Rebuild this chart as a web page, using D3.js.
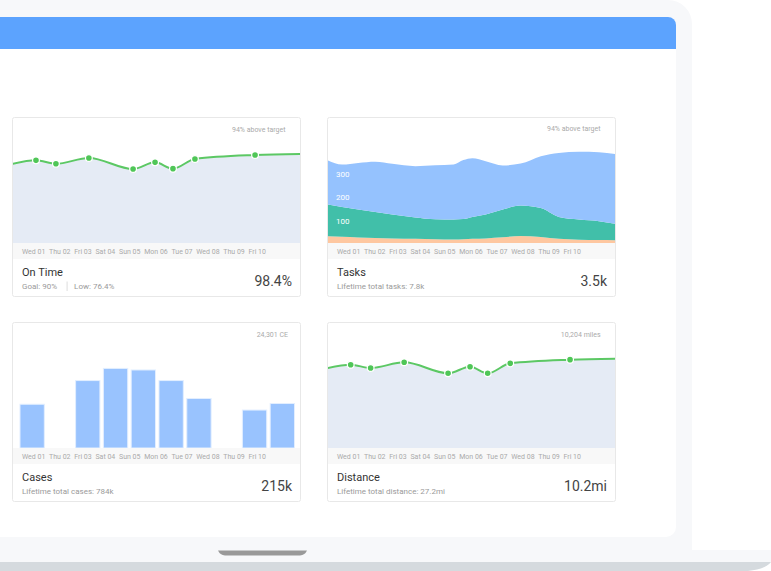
<!DOCTYPE html>
<html>
<head>
<meta charset="utf-8">
<script src="https://cdn.jsdelivr.net/npm/d3@7"></script>
<style>
  body { margin: 0; background: #fff; }
  svg { display: block; font-family: Roboto, "Open Sans", sans-serif; }
</style>
</head>
<body>
<div id="container"></div>
<script>
// tick labels shared by every card
const dayLabels = ["Wed 01", "Thu 02", "Fri 03", "Sat 04", "Sun 05", "Mon 06", "Tue 07", "Wed 08", "Thu 09", "Fri 10"];

// On Time (line), x in days from the left edge
const onTimeDays = [0, 0.83, 1.52, 2.66, 4.19, 4.95, 5.57, 6.33, 8.41, 10];
const onTimeValues = [62.7, 65.6, 62.9, 67.5, 58.7, 64.0, 59.0, 66.7, 69.8, 70.6];

// Tasks (stacked areas)
const taskDays = [0, 0.52, 1.08, 1.67, 2.26, 3.06, 3.75, 4.38, 4.72, 5.03, 5.49, 6.08, 6.7, 7.4, 8.02, 8.72, 9.41, 10];
const taskOther = [34, 31, 28, 26, 24, 22, 20, 19, 20, 22, 24, 29, 34, 30, 22, 18, 17, 16];
const taskDone = [136, 128, 120, 111, 103, 92, 86, 86, 87, 94, 103, 119, 131, 124, 94, 87, 81, 70];
const taskOpen = [190, 182, 200, 216, 217, 220, 232, 236, 253, 252, 228, 189, 180, 223, 275, 291, 296, 300];
const taskTicks = [100, 200, 300];

// Cases (bars)
const caseValues = [2270, 0, 3500, 4130, 4050, 3500, 2570, 0, 1970, 2310];

// Distance (line)
const distanceDays = [0, 0.82, 1.51, 2.67, 4.19, 4.95, 5.56, 6.34, 8.41, 10];
const distanceValues = [63.3, 66.1, 63.5, 68.0, 59.3, 64.5, 59.3, 67.2, 70.1, 70.9];

// card texts
const cardTitles = ["On Time", "Tasks", "Cases", "Distance"];
const cardNotes = ["94% above target", "94% above target", "24,301 CE", "10,204 miles"];
const cardSubs = [["Goal: 90%", "Low: 76.4%"], ["Lifetime total tasks: 7.8k"], ["Lifetime total cases: 784k"], ["Lifetime total distance: 27.2mi"]];
const cardTotals = ["98.4%", "3.5k", "215k", "10.2mi"];

const setAttrs = (el, attrs) =>
  Object.entries(attrs).reduce((acc, [key, val]) => acc.attr(key, val), el);

const CW = 289, CH = 126;
const cardPos = [[12, 117], [327, 117], [12, 322], [327, 322]];

const svg = d3.select("#container").append("svg");
setAttrs(svg, { width: 771, height: 571 });
const defs = svg.append("defs");

// laptop
svg.append("path").attr("d", "M0,0H668A24,24 0 0 1 692,24V550H0Z").attr("fill", "#f7f8fa");
svg.append("rect").call(setAttrs, { x: 0, y: 550, width: 771, height: 12, fill: "#f7f8fa" });
svg.append("path").attr("d", "M0,562H771Q766,569 748,571H0Z").attr("fill", "#d5dade");
svg.append("path").attr("d", "M218,550.5H307Q305,555 300,555.5H225Q220,555 218,550.5Z").attr("fill", "#999");
svg.append("path").attr("d", "M0,17H668A8,8 0 0 1 676,25V527A10,10 0 0 1 666,537H0Z").attr("fill", "#fff");
svg.append("path").attr("d", "M0,17H668A8,8 0 0 1 676,25V49H0Z").attr("fill", "#5ca3fe");

function drawCard(i) {
  const [cx, cy] = cardPos[i];
  const g = svg.append("g").attr("transform", `translate(${cx},${cy})`);
  g.append("rect").call(setAttrs, {
    x: 0.5, y: 0.5, width: CW - 1, height: 179, rx: 2, fill: "#fff", stroke: "#e8e8e8"
  });
  defs.append("clipPath").attr("id", `clip${i}`)
    .append("rect").call(setAttrs, { x: 1, y: 1, width: CW - 2, height: CH - 1 });

  const chart = g.append("g").attr("clip-path", `url(#clip${i})`);

  // tick label band
  g.append("rect").call(setAttrs, { x: 1, y: CH, width: CW - 2, height: 16, fill: "#f8f8f8" });
  let tx = 10;
  dayLabels.forEach((lab) => {
    const t = g.append("text").text(lab).call(setAttrs, {
      x: tx, y: CH + 11, "font-size": 7, fill: "#aaa"
    });
    tx += t.node().getComputedTextLength() + 3.7;
  });

  g.append("text").text(cardNotes[i]).call(setAttrs, {
    x: CW - (i === 2 ? 13 : 15.5), y: i === 1 ? 13.5 : 15, "text-anchor": "end", "font-size": 7, fill: "#aaa"
  });
  g.append("text").text(cardTitles[i]).call(setAttrs, {
    x: 10, y: 159, "font-size": 11, fill: "#333"
  });
  let sx = 10;
  cardSubs[i].forEach((s, k) => {
    if (k > 0) {
      sx += 10;
      g.append("line").call(setAttrs, { x1: sx, x2: sx, y1: 164.5, y2: 174, stroke: "#ddd" });
      sx += 7;
    }
    const t = g.append("text").text(s).call(setAttrs, {
      x: sx, y: 172.3, "font-size": 8, fill: "#9a9a9a"
    });
    sx += t.node().getComputedTextLength();
  });
  g.append("text").text(cardTotals[i]).call(setAttrs, {
    x: CW - 9, y: 168.5, "text-anchor": "end", "font-size": 14, fill: "#444"
  });
  return chart;
}

function lineChart(chart, days, values) {
  const x = d3.scaleLinear().domain([0, 10]).range([0, CW]);
  const y = d3.scaleLinear().domain([0, 100]).range([CH, 0]);
  const pts = days.map((d, i) => [d, values[i]]);
  const area = d3.area().x((d) => x(d[0])).y0(CH).y1((d) => y(d[1])).curve(d3.curveMonotoneX);
  const line = d3.line().x((d) => x(d[0])).y((d) => y(d[1])).curve(d3.curveMonotoneX);
  chart.append("path").attr("d", area(pts)).attr("fill", "#e5ebf5");
  chart.append("path").call(setAttrs, {
    d: line(pts), fill: "none", stroke: "#5cc864", "stroke-width": 2
  });
  chart.selectAll("circle").data(pts.slice(1, -1)).join("circle").call(setAttrs, {
    cx: (d) => x(d[0]), cy: (d) => y(d[1]), r: 3.4, fill: "#4fc657", stroke: "#fff", "stroke-width": 1.2
  });
}

// On Time
lineChart(drawCard(0), onTimeDays, onTimeValues);

// Tasks
{
  const chart = drawCard(1);
  const rows = taskDays.map((d, i) => ({ day: d, other: taskOther[i], done: taskDone[i], open: taskOpen[i] }));
  const series = d3.stack().keys(["other", "done", "open"])(rows);
  const colors = { other: "#fec7a0", done: "#41bfa9", open: "#95c2fe" };
  const x = d3.scaleLinear().domain([0, 10]).range([0, CW]);
  const y = d3.scaleLinear().domain([0, 500]).range([127, 10.5]);
  const area = d3.area().x((d) => x(d.data.day)).y0((d) => y(d[0])).y1((d) => y(d[1])).curve(d3.curveMonotoneX);
  chart.selectAll("path.layer").data(series).join("path")
    .attr("class", "layer").attr("d", area).attr("fill", (s) => colors[s.key]);
  const axis = chart.append("g").attr("transform", "translate(9,0)")
    .call(d3.axisRight(y).tickValues(taskTicks).tickSize(0).tickPadding(0));
  axis.select(".domain").remove();
  axis.attr("font-family", null).attr("font-size", 8);
  axis.selectAll("text").attr("fill", "#fff");
}

// Cases
{
  const chart = drawCard(2);
  const x = d3.scaleBand().domain(dayLabels).range([8, 282.5]).paddingInner(0.125);
  const y = d3.scaleLinear().domain([0, 6540]).range([CH, 0]);
  chart.selectAll("rect.bar").data(dayLabels.map((d, i) => [d, caseValues[i]]).filter((d) => d[1] > 0))
    .join("rect").attr("class", "bar").call(setAttrs, {
      x: (d) => x(d[0]), y: (d) => y(d[1]), width: x.bandwidth(), height: (d) => CH - y(d[1]),
      fill: "#99c3fe", stroke: "#e2eeff", "stroke-width": 1
    });
}

// Distance
lineChart(drawCard(3), distanceDays, distanceValues);
</script>
</body>
</html>
